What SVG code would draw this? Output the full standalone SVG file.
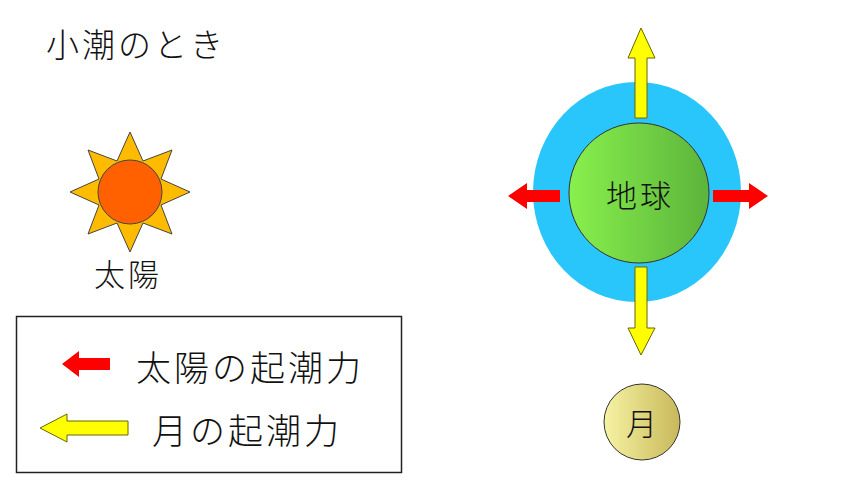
<svg xmlns="http://www.w3.org/2000/svg" width="856" height="482" viewBox="0 0 856 482">
<style>
text{font-family:"Noto Sans CJK JP",sans-serif;fill:#111;font-weight:300;letter-spacing:3px}
.y{fill:#ffff00;stroke:#666600;stroke-width:1}
.r{fill:#ff0000}
</style>
<defs>
<linearGradient id="g" x1="0" x2="1"><stop offset="0" stop-color="#88f04c"/><stop offset="1" stop-color="#5cb43c"/></linearGradient>
<linearGradient id="m" x1="0" x2="1"><stop offset="0" stop-color="#f6f3a4"/><stop offset="1" stop-color="#c8b85a"/></linearGradient>
</defs>
<rect width="856" height="482" fill="#fff"/>
<text x="46" y="57" font-size="33">小潮のとき</text>
<g id="sun">
<polygon points="130,132 143,161 172,150 161,179 190,192 161,205 172,234 143,223 130,252 117,223 88,234 99,205 70,192 99,179 88,150 117,161" fill="#ffbb00" stroke="#444" stroke-width="1"/>
<circle cx="130" cy="192" r="32" fill="#ff6000" stroke="#444" stroke-width="1"/>
<text x="94" y="286" font-size="31">太陽</text>
</g>
<g id="earth">
<ellipse cx="637" cy="192" rx="104" ry="110" fill="#29c6fb"/>
<circle cx="639" cy="193" r="70" fill="url(#g)" stroke="#333" stroke-width="1"/>
<text x="606" y="207" font-size="31">地球</text>
</g>
<g id="moon">
<circle cx="642" cy="422" r="38" fill="url(#m)" stroke="#333" stroke-width="1"/>
<text x="626" y="435" font-size="31">月</text>
</g>
<g id="connectors">
<polygon class="y" points="641,28 655,58 647,58 647,118 635,118 635,58 628,58"/>
<polygon class="y" points="641,355 655,328 647,328 647,267 635,267 635,328 628,328"/>
<polygon class="r" points="508,196 527,183 527,190 560,190 560,202 527,202 527,209"/>
<polygon class="r" points="768,196 749,183 749,190 713,190 713,202 749,202 749,209"/>
</g>
<g id="legend">
<rect x="16.5" y="316.5" width="385" height="156" fill="none" stroke="#222" stroke-width="1.5"/>
<polygon class="r" points="62,364 79,351 79,358 110,358 110,370 79,370 79,377"/>
<polygon class="y" points="40,428 67,414 67,421 128,421 128,435 67,435 67,442"/>
<text x="136" y="381" font-size="35">太陽の起潮力</text>
<text x="152" y="444" font-size="35">月の起潮力</text>
</g>
</svg>
